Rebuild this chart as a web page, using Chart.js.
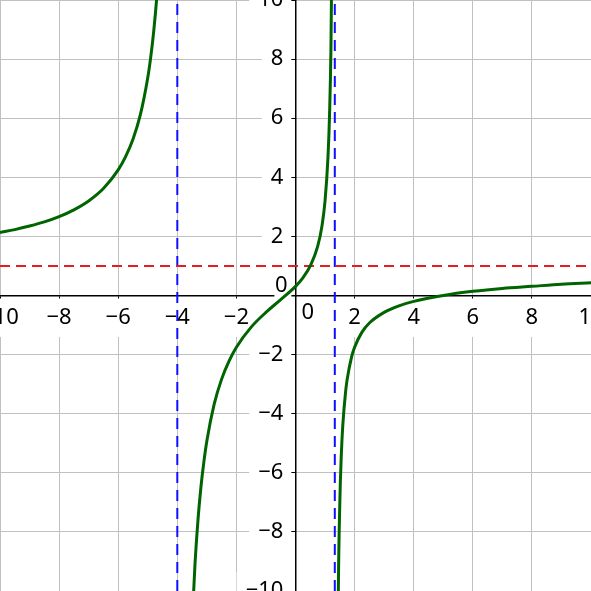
<!DOCTYPE html>
<html>
<head>
<meta charset="utf-8">
<script src="https://cdn.jsdelivr.net/npm/chart.js@4"></script>
<style>
  html, body { margin: 0; padding: 0; background: #fff; }
  #wrap { width: 591px; height: 591px; }
</style>
</head>
<body>
<div id="wrap"><canvas id="c"></canvas></div>
<script>
// axis range and tick step
const axisMin = -10
const axisMax = 10
const tickStep = 2

// asymptotes
const verticalAsymptotes = [-4, 1.33]
const horizontalAsymptote = 1

// left branch of the curve
const leftX = [-10, -9.5, -9, -8.5, -8, -7.5, -7, -6.5, -6, -5.75, -5.5, -5.25, -5, -4.9, -4.8, -4.7, -4.6]
const leftY = [2.13, 2.23, 2.35, 2.49, 2.67, 2.9, 3.2, 3.62, 4.25, 4.7, 5.29, 6.12, 7.37, 8.06, 8.92, 10.03, 11.51]

// middle branch
const midX = [-3.5, -3.4, -3.3, -3.2, -3.1, -3, -2.75, -2.5, -2.25, -2, -1.5, -1, -0.5, 0, 0.25, 0.5, 0.75, 0.9, 1, 1.1, 1.15, 1.2, 1.25]
const midY = [-11.14, -9.07, -7.59, -6.48, -5.62, -4.92, -3.67, -2.83, -2.22, -1.75, -1.07, -0.57, -0.14, 0.31, 0.6, 1.0, 1.66, 2.38, 3.2, 4.7, 6.05, 8.4, 13.57]

// right branch
const rightX = [1.4, 1.45, 1.5, 1.55, 1.6, 1.7, 1.75, 1.9, 2, 2.25, 2.5, 3, 3.5, 4, 5, 6, 7, 8, 9, 10]
const rightY = [-17.33, -9.96, -7.0, -5.4, -4.4, -3.21, -2.83, -2.07, -1.75, -1.24, -0.93, -0.57, -0.35, -0.2, 0, 0.14, 0.24, 0.31, 0.38, 0.43]

const FONT = '"Noto Sans", "DejaVu Sans", sans-serif'
const fmt = v => v === 0 ? '' : (v < 0 ? '\u2212' + Math.abs(v) : String(v))

const toPoints = (xs, ys) => xs.map((x, i) => ({x: x, y: ys[i]}))

const curve = (xs, ys) => ({
  data: toPoints(xs, ys),
  showLine: true,
  borderColor: '#006400',
  borderWidth: 3,
  pointRadius: 0,
  cubicInterpolationMode: 'monotone',
  order: 0
})

const dashed = (pts, color, dash) => ({
  data: pts,
  showLine: true,
  borderColor: color,
  borderWidth: 2,
  borderDash: dash,
  pointRadius: 0,
  order: 1
})

const datasets = [
  dashed([{x: axisMin, y: horizontalAsymptote}, {x: axisMax, y: horizontalAsymptote}], '#e02020', [10, 6]),
  ...verticalAsymptotes.map(a => dashed([{x: a, y: axisMin}, {x: a, y: axisMax}], '#1010ff', [11, 7])),
  curve(leftX, leftY),
  curve(midX, midY),
  curve(rightX, rightY)
]

// the two "0" labels sit off the axes, like in the picture
const zeroLabels = {
  id: 'zeroLabels',
  beforeDatasetsDraw(chart) {
    const {ctx, scales: {x, y}} = chart
    const px = x.getPixelForValue(0)
    const py = y.getPixelForValue(0)
    ctx.save()
    ctx.font = '22px ' + FONT
    ctx.fillStyle = '#000'
    ctx.textAlign = 'right'
    ctx.textBaseline = 'middle'
    ctx.fillText('0', px - 8, py - 10)
    ctx.textAlign = 'left'
    ctx.fillText('0', px + 6, py + 17)
    ctx.restore()
  }
}

const noSpace = (s) => {
  if (s.isHorizontal()) s.height = 0
  else s.width = 0
  s.paddingLeft = s.paddingRight = s.paddingTop = s.paddingBottom = 0
}

const tickFont = { family: FONT, size: 22 }
const backdrop = {
  showLabelBackdrop: true,
  backdropColor: '#fff',
  backdropPadding: {top: 6, bottom: 6, left: 9, right: 8}
}

new Chart(document.getElementById('c'), {
  type: 'scatter',
  data: { datasets: datasets },
  options: {
    responsive: true,
    maintainAspectRatio: false,
    animation: false,
    layout: { padding: 0, autoPadding: false },
    plugins: { legend: { display: false }, tooltip: { enabled: false } },
    scales: {
      x: {
        type: 'linear', min: axisMin, max: axisMax,
        position: {y: 0},
        afterFit: noSpace,
        grid: { color: '#c0c0c0', lineWidth: 1, tickLength: 4, tickColor: '#000' },
        border: { color: '#000', width: 1.5 },
        ticks: {
          stepSize: tickStep, autoSkip: false, maxRotation: 0, padding: 5,
          color: '#000', font: tickFont, callback: fmt, ...backdrop
        }
      },
      y: {
        type: 'linear', min: axisMin, max: axisMax,
        position: {x: 0},
        afterFit: noSpace,
        grid: { color: '#c0c0c0', lineWidth: 1, tickLength: 4, tickColor: '#000' },
        border: { color: '#000', width: 1.5 },
        ticks: { stepSize: tickStep, display: false }
      },
      // label-only copy of the y axis, set a little left of x = 0
      yLabels: {
        type: 'linear', axis: 'y', min: axisMin, max: axisMax,
        position: {x: -0.41},
        afterFit: noSpace,
        grid: { display: false, drawTicks: false },
        border: { display: false },
        ticks: {
          stepSize: tickStep, autoSkip: false,
          color: '#000', font: tickFont, callback: fmt, ...backdrop
        }
      }
    }
  },
  plugins: [zeroLabels]
})
</script>
</body>
</html>
